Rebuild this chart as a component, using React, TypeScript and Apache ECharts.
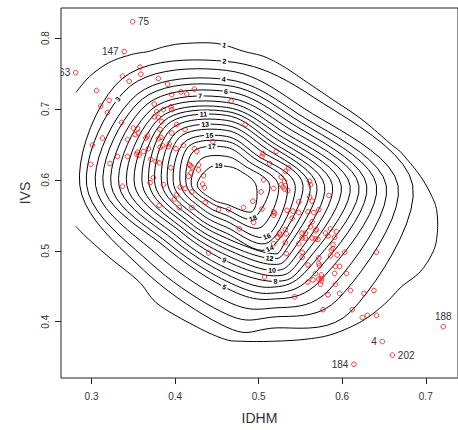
import React, { useEffect, useRef } from "react";
import * as echarts from "echarts";

// Municipalities: human development index (IDHM) and social vulnerability index (IVS)
const idhm = [
  0.306, 0.337, 0.358, 0.359, 0.345, 0.321, 0.311, 0.319, 0.380, 0.391, 0.407, 0.414, 0.423, 0.396, 0.375,
  0.467, 0.336, 0.313, 0.301, 0.299, 0.322, 0.331, 0.343, 0.343, 0.337, 0.386, 0.395, 0.396, 0.378, 0.375,
  0.380, 0.384, 0.402, 0.396, 0.412, 0.382, 0.350, 0.355, 0.356, 0.352, 0.367, 0.365, 0.380, 0.383, 0.393,
  0.385, 0.382, 0.392, 0.410, 0.401, 0.445, 0.423, 0.426, 0.368, 0.355, 0.354, 0.357, 0.362, 0.371, 0.377,
  0.381, 0.395, 0.417, 0.418, 0.420, 0.428, 0.428, 0.419, 0.434, 0.416, 0.374, 0.370, 0.386, 0.381, 0.406,
  0.402, 0.399, 0.405, 0.412, 0.420, 0.420, 0.436, 0.433, 0.435, 0.452, 0.464, 0.440, 0.482, 0.493, 0.504,
  0.484, 0.521, 0.505, 0.504, 0.513, 0.536, 0.532, 0.527, 0.506, 0.531, 0.527, 0.529, 0.531, 0.535, 0.518,
  0.503, 0.561, 0.562, 0.584, 0.518, 0.519, 0.534, 0.541, 0.548, 0.559, 0.564, 0.548, 0.561, 0.572, 0.566,
  0.518, 0.494, 0.477, 0.525, 0.526, 0.523, 0.532, 0.533, 0.518, 0.532, 0.533, 0.507, 0.540, 0.564, 0.562,
  0.569, 0.568, 0.552, 0.556, 0.552, 0.556, 0.564, 0.568, 0.571, 0.548, 0.586, 0.593, 0.580, 0.583, 0.591,
  0.589, 0.589, 0.587, 0.594, 0.586, 0.603, 0.552, 0.552, 0.572, 0.572, 0.573, 0.641, 0.559, 0.592, 0.597,
  0.568, 0.575, 0.575, 0.572, 0.575, 0.574, 0.605, 0.591, 0.592, 0.559, 0.565, 0.543, 0.597, 0.583, 0.610,
  0.626, 0.638, 0.577, 0.612, 0.624, 0.630, 0.641,
];
const ivs = [
  0.726, 0.746, 0.759, 0.749, 0.739, 0.712, 0.704, 0.695, 0.743, 0.735, 0.724, 0.721, 0.728, 0.720, 0.707,
  0.711, 0.681, 0.659, 0.649, 0.622, 0.623, 0.633, 0.633, 0.657, 0.591, 0.699, 0.703, 0.699, 0.696, 0.689,
  0.688, 0.682, 0.678, 0.666, 0.671, 0.671, 0.673, 0.672, 0.666, 0.664, 0.662, 0.659, 0.658, 0.660, 0.651,
  0.648, 0.646, 0.647, 0.649, 0.644, 0.654, 0.644, 0.640, 0.644, 0.639, 0.636, 0.635, 0.640, 0.629, 0.626,
  0.624, 0.617, 0.622, 0.620, 0.618, 0.621, 0.614, 0.610, 0.606, 0.605, 0.603, 0.596, 0.593, 0.564, 0.590,
  0.579, 0.573, 0.561, 0.588, 0.583, 0.561, 0.568, 0.594, 0.589, 0.558, 0.558, 0.497, 0.561, 0.570, 0.559,
  0.678, 0.640, 0.637, 0.633, 0.623, 0.617, 0.612, 0.604, 0.600, 0.598, 0.593, 0.590, 0.587, 0.585, 0.588,
  0.583, 0.598, 0.593, 0.578, 0.555, 0.553, 0.557, 0.556, 0.554, 0.555, 0.570, 0.569, 0.576, 0.558, 0.554,
  0.550, 0.540, 0.531, 0.525, 0.522, 0.519, 0.530, 0.524, 0.510, 0.512, 0.496, 0.463, 0.546, 0.541, 0.534,
  0.530, 0.528, 0.525, 0.525, 0.518, 0.518, 0.518, 0.517, 0.516, 0.510, 0.531, 0.527, 0.525, 0.521, 0.519,
  0.509, 0.503, 0.501, 0.494, 0.493, 0.498, 0.498, 0.491, 0.490, 0.482, 0.479, 0.498, 0.480, 0.478, 0.478,
  0.468, 0.466, 0.461, 0.460, 0.458, 0.453, 0.468, 0.468, 0.453, 0.456, 0.459, 0.435, 0.440, 0.438, 0.444,
  0.440, 0.444, 0.417, 0.417, 0.406, 0.409, 0.409,
];

// Identified municipalities
const idNames = ["75", "147", "63", "188", "4", "202", "184"];
const idIdhm = [0.349, 0.339, 0.281, 0.721, 0.648, 0.660, 0.614];
const idIvs = [0.823, 0.781, 0.751, 0.393, 0.372, 0.353, 0.340];

const xTicks = [0.3, 0.4, 0.5, 0.6, 0.7];
const yTicks = [0.4, 0.5, 0.6, 0.7, 0.8];

// Density contours, one outline per level: [IDHM, IVS] vertices.
// Level 1 is cut by the left edge of the estimation window; the others are closed.
const contour1 = [
  [0.2812, 0.7232], [0.2977, 0.7458], [0.3211, 0.7655], [0.3481, 0.7768], [0.368, 0.781], [0.3879, 0.788],
  [0.4113, 0.7923], [0.45, 0.7923], [0.4828, 0.781], [0.5063, 0.7739], [0.5297, 0.7599], [0.5566, 0.7387],
  [0.5883, 0.7134], [0.6235, 0.6852], [0.6586, 0.65], [0.6703, 0.6387], [0.6938, 0.6049], [0.709, 0.5725],
  [0.7137, 0.5514], [0.7137, 0.5232], [0.709, 0.4993], [0.6938, 0.4711], [0.6703, 0.4486], [0.6504, 0.4246],
  [0.6235, 0.4007], [0.5883, 0.3824], [0.5566, 0.3754], [0.518, 0.3725], [0.4793, 0.3725], [0.4594, 0.3754],
  [0.4266, 0.3923], [0.3797, 0.4246], [0.3563, 0.457], [0.3211, 0.4908], [0.2941, 0.519], [0.2812, 0.5345],
];
const contour2 = [[0.6844, 0.5923], [0.5653, 0.7168], [0.4617, 0.767], [0.3366, 0.7427], [0.2859, 0.5923], [0.3623, 0.4728], [0.4617, 0.3923], [0.5145, 0.3908], [0.61, 0.414]];
const contour3 = [[0.6668, 0.5923], [0.5529, 0.7018], [0.4617, 0.7543], [0.3457, 0.7317], [0.2941, 0.5923], [0.3705, 0.4828], [0.4617, 0.4106], [0.5145, 0.4063], [0.5951, 0.432]];
const contour4 = [[0.6527, 0.5923], [0.5462, 0.6939], [0.4617, 0.7416], [0.3548, 0.7208], [0.3047, 0.5923], [0.3797, 0.4937], [0.4617, 0.4289], [0.5145, 0.419], [0.5843, 0.4449]];
const contour5 = [[0.641, 0.5923], [0.5413, 0.6879], [0.4617, 0.7332], [0.3606, 0.7138], [0.314, 0.5923], [0.3888, 0.5047], [0.4617, 0.4472], [0.5145, 0.4317], [0.5736, 0.4579]];
const contour6 = [[0.6293, 0.5923], [0.5363, 0.6819], [0.4617, 0.7247], [0.3664, 0.7068], [0.3234, 0.5923], [0.3929, 0.5096], [0.4617, 0.4571], [0.5145, 0.4401], [0.5661, 0.4668]];
const contour7 = [[0.6199, 0.5923], [0.5313, 0.676], [0.4617, 0.7162], [0.3722, 0.6999], [0.3328, 0.5923], [0.3979, 0.5156], [0.4617, 0.4669], [0.5145, 0.4486], [0.5595, 0.4748]];
const contour8 = [[0.6094, 0.5923], [0.5263, 0.67], [0.4617, 0.7092], [0.3772, 0.6939], [0.3422, 0.5923], [0.402, 0.5206], [0.4617, 0.4754], [0.5203, 0.457], [0.5545, 0.4808]];
const contour9 = [[0.5988, 0.5923], [0.5222, 0.665], [0.4617, 0.7022], [0.3821, 0.6879], [0.3515, 0.5923], [0.407, 0.5266], [0.4617, 0.4853], [0.518, 0.4648], [0.5495, 0.4867]];
const contour10 = [[0.5883, 0.5923], [0.5181, 0.66], [0.4617, 0.6965], [0.3863, 0.6829], [0.3609, 0.5923], [0.4103, 0.5306], [0.4617, 0.4937], [0.5156, 0.4725], [0.5446, 0.4927]];
const contour11 = [[0.5789, 0.5923], [0.5139, 0.655], [0.4617, 0.6909], [0.3904, 0.6779], [0.3691, 0.5923], [0.4145, 0.5355], [0.4617, 0.5022], [0.5145, 0.481], [0.5396, 0.4987]];
const contour12 = [[0.5695, 0.5923], [0.5106, 0.6511], [0.4617, 0.6839], [0.3954, 0.672], [0.3761, 0.5923], [0.4178, 0.5395], [0.4617, 0.5092], [0.5133, 0.4894], [0.5346, 0.5047]];
const contour13 = [[0.5613, 0.5923], [0.5064, 0.6461], [0.4617, 0.6768], [0.4004, 0.666], [0.3843, 0.5923], [0.4219, 0.5445], [0.4617, 0.5176], [0.5133, 0.4965], [0.5305, 0.5096]];
const contour14 = [[0.5531, 0.5923], [0.5023, 0.6411], [0.4617, 0.6698], [0.4053, 0.66], [0.3914, 0.5923], [0.4252, 0.5485], [0.4617, 0.5247], [0.5133, 0.5035]];
const contour15 = [[0.5437, 0.5923], [0.4973, 0.6351], [0.4617, 0.6613], [0.4111, 0.6531], [0.3984, 0.5923], [0.4294, 0.5535], [0.4617, 0.5331], [0.5121, 0.512]];
const contour16 = [[0.5344, 0.5923], [0.494, 0.6311], [0.4617, 0.6543], [0.4161, 0.6471], [0.4066, 0.5923], [0.4335, 0.5584], [0.4617, 0.5416], [0.5098, 0.5204]];
const contour17 = [[0.5238, 0.5923], [0.489, 0.6252], [0.4617, 0.6458], [0.4219, 0.6401], [0.4136, 0.5923], [0.4377, 0.5634], [0.4617, 0.55], [0.5028, 0.5331]];
const contour18 = [[0.5133, 0.5923], [0.4841, 0.6192], [0.4617, 0.6331], [0.431, 0.6291], [0.4195, 0.5923], [0.4418, 0.5684], [0.4617, 0.5585], [0.4934, 0.5458]];
const contour19 = [[0.4969, 0.5923], [0.4783, 0.6122], [0.4617, 0.6191], [0.441, 0.6172], [0.4265, 0.5923], [0.4451, 0.5724], [0.4617, 0.5655], [0.4924, 0.5555]];

const contourLevels = [1, 2, 3, 4, 5, 6, 7, 8, 9, 10, 11, 12, 13, 14, 15, 16, 17, 18, 19];
const contourPaths = [
  contour1, contour2, contour3, contour4, contour5, contour6, contour7, contour8, contour9, contour10,
  contour11, contour12, contour13, contour14, contour15, contour16, contour17, contour18, contour19,
];

// Where each level's label sits on its line
const labelNear: Record<number, [number, number]> = {
  1: [0.459, 0.791], 2: [0.459, 0.767], 3: [0.327, 0.718], 4: [0.458, 0.742], 5: [0.458, 0.447],
  6: [0.461, 0.725], 7: [0.43, 0.718], 8: [0.52, 0.457], 9: [0.458, 0.485], 10: [0.516, 0.473],
  11: [0.434, 0.691], 12: [0.513, 0.489], 13: [0.436, 0.677], 14: [0.513, 0.504], 15: [0.441, 0.661],
  16: [0.51, 0.52], 17: [0.444, 0.646], 18: [0.493, 0.546], 19: [0.452, 0.619],
};
const idSide: Record<string, "left" | "right" | "top"> = {
  "75": "right", "147": "left", "63": "left", "188": "top", "4": "left", "202": "right", "184": "left",
};

type Pt = [number, number];

// Catmull-Rom curve through screen-space vertices
function smoothCurve(pts: Pt[], closed: boolean, steps = 10): Pt[] {
  const out: Pt[] = [];
  const n = pts.length;
  const get = (i: number) => (closed ? pts[(i + n) % n] : pts[Math.max(0, Math.min(n - 1, i))]);
  const segs = closed ? n : n - 1;
  for (let i = 0; i < segs; i++) {
    const p0 = get(i - 1), p1 = get(i), p2 = get(i + 1), p3 = get(i + 2);
    for (let s = 0; s < steps; s++) {
      const t = s / steps, t2 = t * t, t3 = t2 * t;
      const f = (a: number, b: number, c: number, d: number) =>
        0.5 * (2 * b + (-a + c) * t + (2 * a - 5 * b + 4 * c - d) * t2 + (-a + 3 * b - 3 * c + d) * t3);
      out.push([f(p0[0], p1[0], p2[0], p3[0]), f(p0[1], p1[1], p2[1], p3[1])]);
    }
  }
  out.push(closed ? out[0] : pts[n - 1]);
  return out;
}

export default function App() {
  const ref = useRef<HTMLDivElement>(null);
  useEffect(() => {
    if (!ref.current) return;
    const chart = echarts.init(ref.current, null, { renderer: "svg" });
    const allX = idhm.concat(idIdhm);
    const allY = ivs.concat(idIvs);
    const xr = [Math.min(...allX), Math.max(...allX)];
    const yr = [Math.min(...allY), Math.max(...allY)];
    const xPad = (xr[1] - xr[0]) * 0.04, yPad = (yr[1] - yr[0]) * 0.04;
    const font = "Liberation Sans, Arial, Helvetica, sans-serif";
    const ink = "#333";

    chart.setOption({
      animation: false,
      grid: { left: 61, top: 8, width: 405, height: 370, show: true, borderColor: "#222", borderWidth: 1 },
      xAxis: {
        type: "value", min: xr[0] - xPad, max: xr[1] + xPad,
        axisLine: { show: false, onZero: false },
        axisTick: { show: true, length: 6, customValues: xTicks, lineStyle: { color: "#222" } },
        axisLabel: { customValues: xTicks, formatter: (v: number) => v.toFixed(1), margin: 13, fontSize: 10, color: ink, fontFamily: font },
        splitLine: { show: false },
        name: "IDHM", nameLocation: "middle", nameGap: 33,
        nameTextStyle: { fontSize: 14, color: ink, fontFamily: font },
      },
      yAxis: {
        type: "value", min: yr[0] - yPad, max: yr[1] + yPad,
        axisLine: { show: false, onZero: false },
        axisTick: { show: true, length: 6, customValues: yTicks, lineStyle: { color: "#222" } },
        axisLabel: { customValues: yTicks, formatter: (v: number) => v.toFixed(1), rotate: 90, margin: 11, fontSize: 10, color: ink, fontFamily: font },
        splitLine: { show: false },
        name: "IVS", nameLocation: "middle", nameGap: 27,
        nameTextStyle: { fontSize: 14, color: ink, fontFamily: font },
      },
      series: [
        {
          type: "custom",
          coordinateSystem: "cartesian2d",
          silent: true,
          data: [[0.5, 0.6]],
          renderItem: (_p: any, api: any) => {
            const lines: any[] = [];
            const labels: any[] = [];
            contourLevels.forEach((level, li) => {
              const verts = contourPaths[li].map((p) => api.coord(p) as Pt);
              const curve = smoothCurve(verts, li !== 0);
              lines.push({
                type: "polyline", shape: { points: curve },
                style: { stroke: "#000", lineWidth: 1, fill: "none" },
              });
              // label: nearest point of this line to its anchor, turned along the line
              const hint = api.coord(labelNear[level]) as Pt;
              let best = { d: Infinity, p: [0, 0] as Pt, ang: 0 };
              for (let k = 0; k < curve.length - 1; k++) {
                const [ax, ay] = curve[k], [bx, by] = curve[k + 1];
                const dx = bx - ax, dy = by - ay;
                const L2 = dx * dx + dy * dy || 1;
                const t = Math.max(0, Math.min(1, ((hint[0] - ax) * dx + (hint[1] - ay) * dy) / L2));
                const px = ax + t * dx, py = ay + t * dy;
                const d = (px - hint[0]) ** 2 + (py - hint[1]) ** 2;
                if (d < best.d) {
                  let ang = -Math.atan2(dy, dx);
                  if (ang > Math.PI / 2) ang -= Math.PI;
                  if (ang < -Math.PI / 2) ang += Math.PI;
                  best = { d, p: [px, py], ang };
                }
              }
              const txt = String(level);
              const w = txt.length * 4 + 3;
              labels.push({
                type: "group", x: best.p[0], y: best.p[1], rotation: best.ang,
                children: [
                  { type: "rect", shape: { x: -w / 2, y: -3.5, width: w, height: 7 }, style: { fill: "#fff" } },
                  { type: "text", x: 0, y: 0, style: { text: txt, fontSize: 7, fontWeight: "bold", fontFamily: font, fill: "#000", align: "center", verticalAlign: "middle" } },
                ],
              });
            });
            return { type: "group", children: lines.concat(labels) };
          },
          z: 1,
        },
        {
          type: "scatter",
          silent: true,
          symbol: "circle",
          symbolSize: 4.6,
          itemStyle: { color: "rgba(0,0,0,0)", borderColor: "#ff0000", borderWidth: 1 },
          data: allX.map((x, i) => [x, allY[i]]),
          z: 3,
        },
        {
          type: "custom",
          coordinateSystem: "cartesian2d",
          silent: true,
          clip: true,
          data: idNames.map((n, i) => [idIdhm[i], idIvs[i], i]),
          renderItem: (params: any, api: any) => {
            const i = params.dataIndex;
            const [px, py] = api.coord([idIdhm[i], idIvs[i]]);
            const side = idSide[idNames[i]];
            const off = 5.5;
            const pos = side === "left" ? { x: px - off, y: py, align: "right", va: "middle" }
              : side === "right" ? { x: px + off, y: py, align: "left", va: "middle" }
              : { x: px, y: py - off, align: "center", va: "bottom" };
            return {
              type: "text", x: pos.x, y: pos.y,
              style: { text: idNames[i], fontSize: 10, fontFamily: font, fill: ink, align: pos.align, verticalAlign: pos.va },
            };
          },
          z: 4,
        },
      ],
    });
    return () => chart.dispose();
  }, []);
  return <div ref={ref} style={{ position: "absolute", left: 0, top: 0, width: 458, height: 430 }} />;
}
